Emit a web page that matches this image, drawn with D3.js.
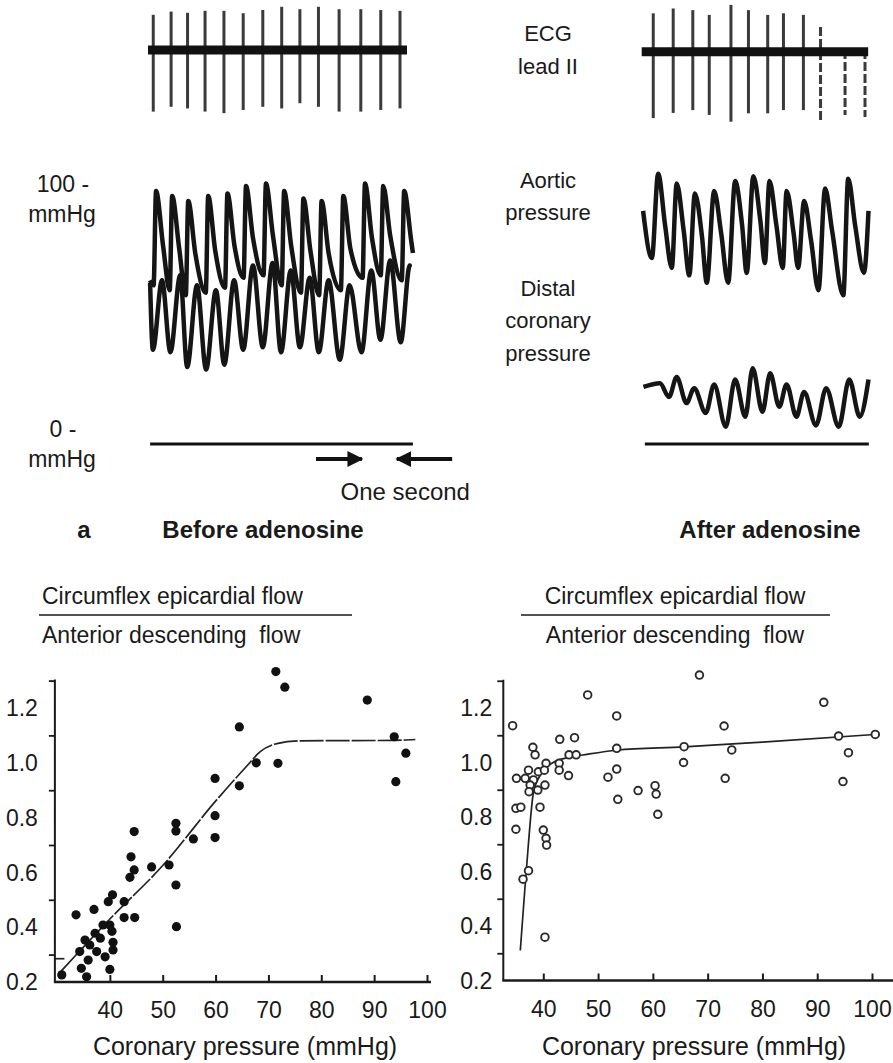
<!DOCTYPE html>
<html>
<head>
<meta charset="utf-8">
<script src="https://cdn.jsdelivr.net/npm/d3@7"></script>
<style>
body { margin: 0; background: #fff; }
text { font-family: "Liberation Sans", Arial, sans-serif; fill: #1a1a1a; }
</style>
</head>
<body>
<script>
// ---------- data: panel a (traces), time in seconds, ECG in mV, pressure in mmHg ----------
const ecgLeftT = [0.15,0.66,1.13,1.63,2.17,2.72,3.28,3.82,4.34,4.87,5.46,6.08,6.65,7.20];
const ecgLeftTop = [0.88,0.96,0.93,0.98,0.98,0.92,1.0,1.08,1.02,1.08,1.02,1.02,1.0,0.98];
const ecgLeftBottom = [-1.54,-1.42,-1.46,-1.54,-1.58,-1.5,-1.42,-1.46,-1.33,-1.42,-1.54,-1.54,-1.5,-1.46];
const ecgRightT = [0.35,0.92,1.48,1.95,2.57,3.07,3.62,4.07,4.64,5.13,5.83,6.40];
const ecgRightTop = [0.96,1.08,1.04,0.92,1.17,1.04,0.92,0.96,0.92,0.62,0.04,0.04];
const ecgRightBottom = [-1.66,-1.53,-1.46,-1.58,-1.75,-1.54,-1.54,-1.46,-1.46,-1.71,-1.58,-1.63];

const aoLeftPeakT = [0.23,0.69,1.15,1.72,2.27,2.80,3.37,3.89,4.44,4.96,5.58,6.20,6.72,7.32];
const aoLeftSys = [102,100,98,100,101,104,105,102,99,98,100,105,104,102];
const aoLeftDia = [64,62,60,61,63,67,68,64,61,60,62,67,68,66];
const aoLeftNotch = [80,79,77,78,80,83,84,80,78,77,79,83,84,82];
const coLeftTroughT = [0.14,0.64,1.12,1.66,2.18,2.72,3.28,3.80,4.34,4.88,5.48,6.10,6.64,7.22];
const coLeftTrough = [38,37,31,30,32,38,39,37,39,37,34,37,42,41];
const coLeftPeakT = [0.40,0.92,1.40,1.94,2.46,3.00,3.56,4.08,4.62,5.16,5.76,6.38,6.92,7.48];
const coLeftPeak = [66,68,64,62,66,72,73,70,67,66,64,70,74,72];

const aoRightTroughT = [0.31,0.88,1.38,1.88,2.49,3.02,3.54,4.05,4.49,5.07,5.78,6.37];
const aoRightDia = [75,71,68,65,65,69,73,71,71,62,60,69];
const aoRightPeakT = [0.49,1.02,1.54,2.09,2.69,3.21,3.67,4.16,4.66,5.26,5.92];
const aoRightSys = [109,105,101,102,106,108,106,102,98,103,107];
const aoRightNotch = [88,86,84,85,88,90,88,85,82,86,88];
const coRightPeakT = [0.54,1.02,1.52,2.09,2.69,3.19,3.69,4.16,4.66,5.29,5.95];
const coRightPeak = [24.5,27,22.5,24,26,30.5,28.5,24,21,22.5,26];
const coRightTroughT = [0.80,1.30,1.85,2.42,2.98,3.47,3.95,4.44,5.00,5.65,6.25];
const coRightTrough = [19,16.5,12.5,7,11,13,15,11,7.5,7,11];

// ---------- data: panel b (scatter), coronary pressure (mmHg) vs flow ratio ----------
const leftPressure = [71.4,73.1,88.7,64.5,93.8,96.0,67.7,71.8,94.1,59.9,64.5,59.9,52.5,52.5,55.8,59.9,44.6,44.0,47.9,51.2,44.6,43.8,52.5,52.6,33.6,37.0,40.5,39.7,42.7,42.7,44.7,38.7,40.0,37.2,35.3,36.2,34.3,37.5,40.6,39.1,35.9,34.6,40.0,35.6,30.9,40.4,40.6,38.2];
const leftRatio = [1.333,1.276,1.229,1.131,1.095,1.035,1.0,0.998,0.931,0.943,0.916,0.807,0.779,0.751,0.722,0.727,0.749,0.657,0.62,0.627,0.609,0.582,0.554,0.402,0.445,0.465,0.518,0.493,0.493,0.435,0.435,0.408,0.408,0.378,0.353,0.335,0.311,0.311,0.317,0.292,0.28,0.25,0.246,0.219,0.226,0.385,0.345,0.36];
const leftFitP = [30.8,40,50,60,66,68.4,71.6,76,94,97.8];
const leftFitR = [0.24,0.43,0.625,0.86,0.99,1.04,1.07,1.08,1.082,1.085];

const rightPressure = [68.5,48.1,91.2,53.4,34.4,73.0,43.0,45.7,93.9,100.6,38.1,38.5,53.4,65.7,74.4,95.7,44.7,46.0,40.5,42.9,65.6,37.3,39.1,40.2,42.9,53.4,35.1,36.7,38.2,44.6,51.8,73.2,94.7,37.6,40.3,60.4,37.4,39.0,57.3,60.6,53.6,60.9,35.0,35.9,39.4,35.0,40.0,40.5,40.6,36.3,37.3,40.3];
const rightRatio = [1.321,1.248,1.221,1.171,1.135,1.134,1.085,1.091,1.097,1.103,1.056,1.028,1.052,1.058,1.046,1.036,1.028,1.028,0.997,0.997,1.0,0.972,0.966,0.972,0.972,0.976,0.942,0.942,0.936,0.952,0.946,0.942,0.93,0.917,0.917,0.915,0.893,0.899,0.897,0.884,0.865,0.81,0.832,0.836,0.836,0.755,0.752,0.722,0.697,0.572,0.603,0.359];
const rightFitP = [35.8,36.5,37.2,38.2,39.5,41.8,45,48,53.4,65.7,80,100.6];
const rightFitR = [0.31,0.5,0.68,0.89,0.955,1.0,1.02,1.03,1.045,1.057,1.075,1.103];

const xTicks = [40,50,60,70,80,90,100];
const yLabels = [0.2,0.4,0.6,0.8,1.0,1.2];
const yTicks = [0.3,0.5,0.7,0.9,1.1,1.3];

const svg = d3.select('body').append('svg').attr('width', 893).attr('height', 1063);

// ---------- panel a ----------
const tL = d3.scaleLinear().domain([0, 1]).range([148, 183]);
const tR = d3.scaleLinear().domain([0, 1]).range([641, 676]);
const ecgL = d3.scaleLinear().domain([0, 1]).range([50, 10]);
const ecgR = d3.scaleLinear().domain([0, 1]).range([51.7, 11.7]);
const pY = d3.scaleLinear().domain([0, 100]).range([444, 196]);

function drawEcg(t, y, times, tops, bottoms, t0, t1, dashFrom) {
  const g = svg.append('g');
  g.selectAll('line.spike').data(times).join('line')
    .attr('class', 'spike')
    .attr('x1', d => t(d)).attr('x2', d => t(d))
    .attr('y1', (d, i) => y(tops[i])).attr('y2', (d, i) => y(bottoms[i]))
    .attr('stroke', '#3a3a3a').attr('stroke-width', 3)
    .attr('stroke-dasharray', (d, i) => i >= dashFrom ? '9,3' : null);
  g.append('line')
    .attr('x1', t(t0)).attr('x2', t(t1)).attr('y1', y(0)).attr('y2', y(0))
    .attr('stroke', '#111').attr('stroke-width', 9);
}
drawEcg(tL, ecgL, ecgLeftT, ecgLeftTop, ecgLeftBottom, 0, 7.4, 99);
drawEcg(tR, ecgR, ecgRightT, ecgRightTop, ecgRightBottom, 0.02, 6.49, 9);

const trace = (t) => d3.line().x(d => t(d[0])).y(d => pY(d[1])).curve(d3.curveMonotoneX);

function aorticPts(start, footT, dia, peakT, sys, notch, end) {
  const pts = [start];
  peakT.forEach((p, i) => {
    pts.push([footT[i], dia[i]], [p, sys[i]], [p + 0.2, notch[i]]);
  });
  if (footT.length > peakT.length) pts.push([footT[footT.length - 1], dia[dia.length - 1]]);
  pts.push(end);
  return pts;
}
function coronaryPts(start, troughT, trough, peakT, peak, end) {
  const pts = [start];
  const n = Math.max(troughT.length, peakT.length);
  for (let i = 0; i < n; i++) {
    if (troughT[i] !== undefined && troughT[i] < (peakT[i] ?? 99)) {
      pts.push([troughT[i], trough[i]]);
      if (peakT[i] !== undefined) pts.push([peakT[i], peak[i]]);
    } else {
      if (peakT[i] !== undefined) pts.push([peakT[i], peak[i]]);
      if (troughT[i] !== undefined) pts.push([troughT[i], trough[i]]);
    }
  }
  pts.push(end);
  return pts;
}

const traceStyle = p => p.attr('fill', 'none').attr('stroke', '#151515')
  .attr('stroke-width', 4.5).attr('stroke-linejoin', 'round');

// left: aortic + distal coronary (before adenosine)
svg.append('path')
  .attr('d', trace(tL)(aorticPts([0.06, 66], aoLeftPeakT.map(d => d - 0.07), aoLeftDia, aoLeftPeakT, aoLeftSys, aoLeftNotch, [7.57, 77])))
  .call(traceStyle);
svg.append('path')
  .attr('d', trace(tL)(coronaryPts([0.06, 65], coLeftTroughT, coLeftTrough, coLeftPeakT, coLeftPeak, [7.45, 72])))
  .call(traceStyle);
// right: aortic + distal coronary (after adenosine)
svg.append('path')
  .attr('d', trace(tR)(aorticPts([0.06, 94], aoRightTroughT, aoRightDia, aoRightPeakT, aoRightSys, aoRightNotch, [6.5, 94])))
  .call(traceStyle);
svg.append('path')
  .attr('d', trace(tR)(coronaryPts([0.07, 23], coRightTroughT, coRightTrough, coRightPeakT, coRightPeak, [6.5, 26])))
  .call(traceStyle);

// zero pressure lines
svg.append('line').attr('x1', tL(0.06)).attr('x2', tL(7.57)).attr('y1', pY(0)).attr('y2', pY(0))
  .attr('stroke', '#111').attr('stroke-width', 3);
svg.append('line').attr('x1', tR(0.11)).attr('x2', tR(6.51)).attr('y1', pY(0)).attr('y2', pY(0))
  .attr('stroke', '#111').attr('stroke-width', 3);

// one second marker
const defs = svg.append('defs');
defs.append('marker').attr('id', 'ah').attr('viewBox', '0 0 10 10').attr('refX', 9).attr('refY', 5)
  .attr('markerWidth', 4).attr('markerHeight', 4).attr('orient', 'auto')
  .append('path').attr('d', 'M0,0L10,5L0,10Z').attr('fill', '#111');
svg.append('line').attr('x1', tL(4.8)).attr('x2', tL(6.11)).attr('y1', pY(0) + 15).attr('y2', pY(0) + 15)
  .attr('stroke', '#111').attr('stroke-width', 4).attr('marker-end', 'url(#ah)');
svg.append('line').attr('x1', tL(8.69)).attr('x2', tL(7.11)).attr('y1', pY(0) + 15).attr('y2', pY(0) + 15)
  .attr('stroke', '#111').attr('stroke-width', 4).attr('marker-end', 'url(#ah)');
svg.append('text').attr('x', tL(5.5)).attr('y', 500).attr('font-size', 24).text('One second');

// pressure scale labels
svg.append('text').attr('x', 63).attr('y', pY(100) - 4).attr('text-anchor', 'middle').attr('font-size', 23).text('100 -');
svg.append('text').attr('x', 62).attr('y', 222).attr('text-anchor', 'middle').attr('font-size', 23).text('mmHg');
svg.append('text').attr('x', 63).attr('y', pY(0) - 7).attr('text-anchor', 'middle').attr('font-size', 23).text('0 -');
svg.append('text').attr('x', 62).attr('y', 467).attr('text-anchor', 'middle').attr('font-size', 23).text('mmHg');

// middle labels
const midLabels = [['ECG', 41], ['lead II', 74], ['Aortic', 188], ['pressure', 220], ['Distal', 296], ['coronary', 328], ['pressure', 361]];
svg.selectAll('text.mid').data(midLabels).join('text').attr('class', 'mid')
  .attr('x', 548).attr('y', d => d[1]).attr('text-anchor', 'middle').attr('font-size', 22).text(d => d[0]);

svg.append('text').attr('x', 84).attr('y', 538).attr('text-anchor', 'middle').attr('font-size', 24).attr('font-weight', 'bold').text('a');
svg.append('text').attr('x', 263).attr('y', 538).attr('text-anchor', 'middle').attr('font-size', 24).attr('font-weight', 'bold').text('Before adenosine');
svg.append('text').attr('x', 770).attr('y', 538).attr('text-anchor', 'middle').attr('font-size', 24).attr('font-weight', 'bold').text('After adenosine');

// ---------- panel b ----------
function scatterPanel(cfg) {
  const { x, y, axisX, axisRight, labelOff, pressure, ratio, fitP, fitR, filled, titleX, titleAnchor, lineX1, lineX2, xLabelX } = cfg;
  const g = svg.append('g');
  const yBottom = y(0.2);

  // title fraction
  g.append('text').attr('x', titleX).attr('y', 604).attr('text-anchor', titleAnchor).attr('font-size', 23)
    .text('Circumflex epicardial flow');
  g.append('line').attr('x1', lineX1).attr('x2', lineX2).attr('y1', 615).attr('y2', 615)
    .attr('stroke', '#1a1a1a').attr('stroke-width', 1.6);
  g.append('text').attr('x', titleX).attr('y', 643).attr('text-anchor', titleAnchor).attr('font-size', 23)
    .style('white-space', 'pre').text('Anterior descending  flow');

  // y axis
  g.append('g').attr('transform', `translate(${axisX},0)`)
    .call(d3.axisLeft(y).tickValues(yTicks).tickSize(6).tickFormat(''))
    .call(s => s.select('.domain').remove())
    .call(s => s.selectAll('line').attr('stroke', '#1a1a1a').attr('stroke-width', 1.8));
  g.append('line').attr('x1', axisX).attr('x2', axisX).attr('y1', y(1.3) - 1).attr('y2', yBottom)
    .attr('stroke', '#1a1a1a').attr('stroke-width', 2);
  g.selectAll('text.yl').data(yLabels).join('text').attr('class', 'yl')
    .attr('x', axisX - labelOff).attr('y', d => y(d)).attr('dy', '0.36em')
    .attr('text-anchor', 'end').attr('font-size', 23).text(d3.format('.1f'));

  // x axis
  g.append('g').attr('transform', `translate(0,${yBottom})`)
    .call(d3.axisBottom(x).tickValues(xTicks).tickSizeInner(-7).tickSizeOuter(0).tickPadding(20))
    .call(s => s.select('.domain').remove())
    .call(s => s.selectAll('line').attr('stroke', '#1a1a1a').attr('stroke-width', 2))
    .call(s => s.selectAll('text').attr('font-size', 23).attr('font-family', '"Liberation Sans", Arial, sans-serif').attr('fill', '#1a1a1a'));
  g.append('line').attr('x1', axisX - 1).attr('x2', axisRight).attr('y1', yBottom).attr('y2', yBottom)
    .attr('stroke', '#1a1a1a').attr('stroke-width', 2.6);
  g.append('text').attr('x', xLabelX).attr('y', 1055).attr('text-anchor', 'middle').attr('font-size', 25)
    .text('Coronary pressure (mmHg)');

  // fit line
  g.append('path')
    .attr('d', d3.line().x((d, i) => x(d)).y((d, i) => y(fitR[i])).curve(d3.curveMonotoneX)(fitP))
    .attr('fill', 'none').attr('stroke', '#222').attr('stroke-width', 1.7)
    .attr('stroke-dasharray', filled ? '24,2' : null);

  // points
  g.selectAll('circle').data(pressure).join('circle')
    .attr('cx', d => x(d)).attr('cy', (d, i) => y(ratio[i]))
    .attr('r', filled ? 4.6 : 3.8)
    .attr('fill', filled ? '#111' : '#fff')
    .attr('stroke', filled ? 'none' : '#2a2a2a').attr('stroke-width', 1.9);
  return g;
}

const xL = d3.scaleLinear().domain([30, 100]).range([57, 427]);
const yL = d3.scaleLinear().domain([0.2, 1.2]).range([982, 708]);
const gl = scatterPanel({ x: xL, y: yL, axisX: xL(29.6), axisRight: 431, labelOff: 17,
  pressure: leftPressure, ratio: leftRatio, fitP: leftFitP, fitR: leftFitR, filled: true,
  titleX: 42, titleAnchor: 'start', lineX1: 39, lineX2: 352, xLabelX: 245 });
// short level mark at the start of the left fit
gl.append('line').attr('x1', xL(29.6)).attr('x2', xL(31.4)).attr('y1', yL(0.285)).attr('y2', yL(0.285))
  .attr('stroke', '#222').attr('stroke-width', 1.7);

const xR = d3.scaleLinear().domain([40, 100]).range([543.3, 872]);
const yR = d3.scaleLinear().domain([0.2, 1.2]).range([980.5, 708]);
scatterPanel({ x: xR, y: yR, axisX: xR(32.7), axisRight: 893, labelOff: 11,
  pressure: rightPressure, ratio: rightRatio, fitP: rightFitP, fitR: rightFitR, filled: false,
  titleX: 675, titleAnchor: 'middle', lineX1: 521, lineX2: 830, xLabelX: 694 });
</script>
</body>
</html>
